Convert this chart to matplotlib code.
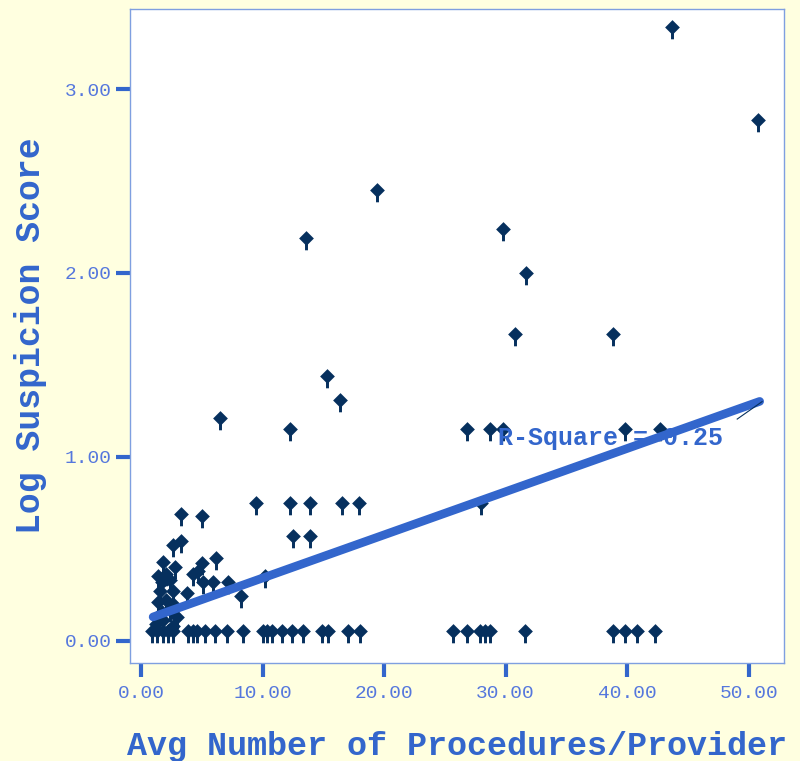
import numpy as np
import matplotlib
matplotlib.use('Agg')
import matplotlib.pyplot as plt
from matplotlib.path import Path

# avg number of procedures per provider vs log suspicion score
avg_procs = [
    43.7, 50.8, 19.4, 13.6, 29.8, 31.7, 30.8, 38.8, 15.3, 16.4,
    6.5, 12.3, 26.8, 28.7, 29.8, 39.8, 42.7,
    9.5, 12.3, 13.9, 16.5, 17.9, 28.0,
    12.5, 13.9, 3.3, 5.0, 3.3, 2.6, 6.2, 8.2, 10.2,
    1.8, 2.8, 5.0, 4.7, 4.3, 1.4, 2.1, 1.7, 2.4, 5.1, 5.9, 7.2,
    3.8, 1.6, 2.6, 1.4, 2.1, 2.6, 1.7, 2.4, 3.0, 1.8, 1.2, 2.6,
    0.9, 1.3, 1.8, 2.2, 2.6, 3.9, 4.3, 4.6, 5.3, 6.1, 7.1, 8.4,
    10.0, 10.4, 10.8, 11.6, 12.4, 13.3, 14.9, 15.4, 17.0, 18.0,
    25.7, 26.8, 27.9, 28.3, 28.7, 31.6, 38.8, 39.8, 40.8, 42.3,
]
log_score = [
    3.34, 2.83, 2.45, 2.19, 2.24, 2.00, 1.67, 1.67, 1.44, 1.31,
    1.21, 1.15, 1.15, 1.15, 1.15, 1.15, 1.15,
    0.75, 0.75, 0.75, 0.75, 0.75, 0.75,
    0.57, 0.57, 0.69, 0.68, 0.54, 0.52, 0.45, 0.24, 0.35,
    0.43, 0.40, 0.42, 0.38, 0.36, 0.35, 0.36, 0.32, 0.33, 0.32, 0.32, 0.32,
    0.26, 0.27, 0.27, 0.21, 0.22, 0.20, 0.155, 0.165, 0.13, 0.11, 0.09, 0.08,
    0.05, 0.05, 0.05, 0.05, 0.05, 0.05, 0.05, 0.05, 0.05, 0.05, 0.05, 0.05,
    0.05, 0.05, 0.05, 0.05, 0.05, 0.05, 0.05, 0.05, 0.05, 0.05,
    0.05, 0.05, 0.05, 0.05, 0.05, 0.05, 0.05, 0.05, 0.05, 0.05,
]
fit_intercept = 0.105
fit_slope = 0.0235
r_square = 0.25

x_ticks = [0, 10, 20, 30, 40, 50]
y_ticks = [0, 1, 2, 3]

blue = '#3366cc'
navy = '#06305e'
mono = 'Liberation Mono'

# diamond with a little stem below it
verts = [(0, 1), (1, 0), (0, -1), (-1, 0), (0, 1),
         (-0.2, -0.6), (0.2, -0.6), (0.2, -1.6), (-0.2, -1.6), (-0.2, -0.6)]
codes = [Path.MOVETO, Path.LINETO, Path.LINETO, Path.LINETO, Path.CLOSEPOLY,
         Path.MOVETO, Path.LINETO, Path.LINETO, Path.LINETO, Path.CLOSEPOLY]
pin = Path(verts, codes)

fig = plt.figure(figsize=(8, 7.61), dpi=100, facecolor='#ffffe0')
ax = fig.add_axes([0.1625, 0.1288, 0.8175, 0.8594])
ax.set_facecolor('white')

ax.plot(avg_procs, log_score, linestyle='none', marker=pin, markersize=17,
        color=navy, markeredgewidth=0, zorder=2)

x = np.array(avg_procs)
fit_x = np.linspace(x.min() + 0.1, x.max() + 0.1, 100)
ax.plot(fit_x, fit_intercept + fit_slope * fit_x, color=blue, lw=6.2,
        solid_capstyle='round', zorder=3)

ax.text(29.4, 1.10, 'R-Square = %.2f' % r_square, color=blue, fontsize=18,
        family=mono, weight='bold', ha='left', va='center', zorder=4)
ax.plot([49.05, 51.1], [1.205, 1.30], color=navy, lw=0.8, zorder=4)

ax.set_xlim(-0.9, 52.9)
ax.set_ylim(-0.122, 3.436)
ax.set_xticks(x_ticks)
ax.set_xticklabels(['%.2f' % v for v in x_ticks])
ax.set_yticks(y_ticks)
ax.set_yticklabels(['%.2f' % v for v in y_ticks])
ax.tick_params(direction='out', length=10, width=3, color=blue,
               labelcolor='#5577dd', labelsize=14)
ax.tick_params(axis='x', pad=6)
ax.tick_params(axis='y', pad=3)
for lab in ax.get_xticklabels() + ax.get_yticklabels():
    lab.set_family(mono)

for s in ax.spines.values():
    s.set_color('#7f9fe0')
    s.set_linewidth(1.0)

ax.set_xlabel('Avg Number of Procedures/Provider', family=mono, weight='bold',
              fontsize=24, color=blue, labelpad=21)
ax.set_ylabel('Log Suspicion Score', family=mono, weight='bold',
              fontsize=25, color=blue, labelpad=13)

fig.savefig('out.png', dpi=100, facecolor=fig.get_facecolor())
